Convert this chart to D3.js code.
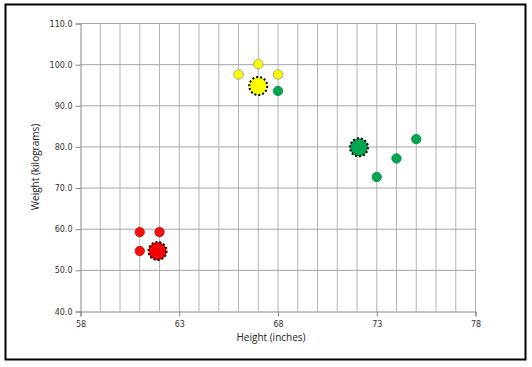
<!DOCTYPE html>
<html><head><meta charset="utf-8">
<script src="https://cdn.jsdelivr.net/npm/d3@7"></script>
<style>body{margin:0;background:#fff}svg{display:block}</style>
</head><body>
<script>
const xTicks = [58, 63, 68, 73, 78];
const yTicks = [40, 50, 60, 70, 80, 90, 100, 110];
const redX = [61, 62, 61];
const redY = [59.3, 59.3, 54.7];
const redMean = [61.9, 54.7];
const yellowX = [66, 67, 68];
const yellowY = [97.6, 100.1, 97.6];
const yellowMean = [67.0, 94.8];
const greenX = [68, 73, 74, 75];
const greenY = [93.6, 72.7, 77.2, 81.9];
const greenMean = [72.1, 79.9];

const W = 532, H = 367;
const svg = d3.select("body").append("svg").attr("width", W).attr("height", H);
svg.append("rect").attr("x", 5.5).attr("y", 4.5).attr("width", 520).attr("height", 355)
  .attr("fill", "#fff").attr("stroke", "#000").attr("stroke-width", 2);

const x = d3.scaleLinear().domain([58, 78]).range([80.5, 475.5]);
const y = d3.scaleLinear().domain([40, 110]).range([311.5, 23.5]);

// grid
const g = svg.append("g");
g.selectAll(".vg").data(d3.range(59, 79)).join("line")
  .attr("x1", d => x(d)).attr("x2", d => x(d)).attr("y1", y(110)).attr("y2", y(40))
  .attr("stroke", "#b4b4b4").attr("stroke-width", 1);
g.selectAll(".hg").data(yTicks.slice(1)).join("line")
  .attr("x1", x(58)).attr("x2", x(78)).attr("y1", d => y(d)).attr("y2", d => y(d))
  .attr("stroke", "#a6a6a6").attr("stroke-width", 1);

// axes
const xa = svg.append("g").attr("transform", `translate(0,${y(40)})`)
  .call(d3.axisBottom(x).tickValues(xTicks).tickSize(5).tickPadding(5).tickFormat(d3.format("d")));
const ya = svg.append("g").attr("transform", `translate(${x(58)},0)`)
  .call(d3.axisLeft(y).tickValues(yTicks).tickSize(5).tickPadding(3).tickFormat(d3.format(".1f")));
[xa, ya].forEach(a => {
  a.select(".domain").attr("stroke", "#868686");
  a.selectAll(".tick line").attr("stroke", "#868686");
  a.selectAll("text").attr("fill", "#333").style("font-family", "DejaVu Sans, Verdana, sans-serif").style("font-size", "8px");
});

svg.append("text").attr("x", 271).attr("y", 341).attr("text-anchor", "middle")
  .style("font-family", "Open Sans, Liberation Sans, sans-serif").style("font-size", "10px").attr("fill", "#222")
  .text("Height (inches)");
svg.append("text").attr("transform", `translate(39,167) rotate(-90)`).attr("text-anchor", "middle")
  .style("font-family", "Open Sans, Liberation Sans, sans-serif").style("font-size", "10px").attr("fill", "#222")
  .text("Weight (kilograms)");

function smalls(xs, ys, fill, stroke) {
  svg.append("g").selectAll("circle").data(xs.map((v, i) => [v, ys[i]])).join("circle")
    .attr("cx", d => x(d[0])).attr("cy", d => y(d[1])).attr("r", 4.7)
    .attr("fill", fill).attr("stroke", stroke).attr("stroke-width", 0.8);
}
function big(m, fill) {
  svg.append("circle").attr("cx", x(m[0])).attr("cy", y(m[1])).attr("r", 9)
    .attr("fill", fill).attr("stroke", "#000").attr("stroke-width", 2).attr("stroke-dasharray", "2,2");
}
smalls(redX, redY, "#f01010", "#d00000");
big(redMean, "#f80000");
smalls(yellowX, yellowY, "#ffff00", "#8a9a6a");
big(yellowMean, "#ffff00");
smalls(greenX, greenY, "#00a550", "#009040");
big(greenMean, "#00a550");
</script>
</body></html>
